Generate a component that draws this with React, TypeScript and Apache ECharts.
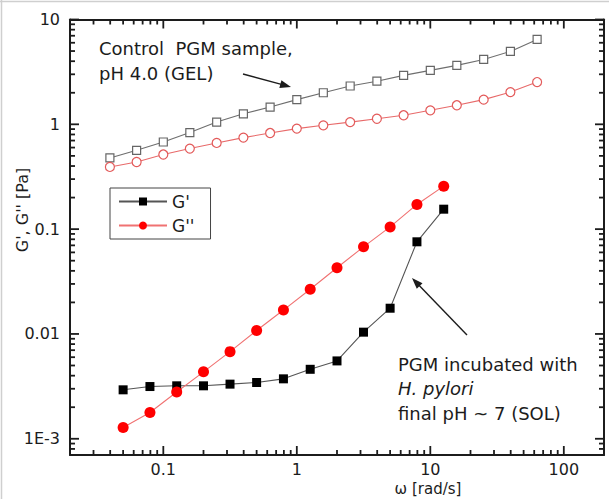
import React, { useEffect, useRef } from "react";
import * as echarts from "echarts";

// Control PGM sample, pH 4.0 (gel)
const gelFreq = [0.0398, 0.0631, 0.1, 0.158, 0.251, 0.398, 0.631, 1, 1.58, 2.51, 3.98, 6.31, 10, 15.8, 25.1, 39.8, 63.1];
const gelStorage = [0.478, 0.565, 0.678, 0.834, 1.05, 1.26, 1.46, 1.72, 2.0, 2.32, 2.58, 2.93, 3.27, 3.65, 4.16, 4.96, 6.45];
const gelLoss = [0.392, 0.437, 0.515, 0.587, 0.664, 0.747, 0.826, 0.91, 0.978, 1.05, 1.13, 1.22, 1.36, 1.52, 1.72, 2.03, 2.53];

// PGM incubated with H. pylori, final pH ~ 7 (sol)
const solFreq = [0.05, 0.0794, 0.126, 0.2, 0.316, 0.5, 0.794, 1.26, 2, 3.16, 5, 7.94, 12.6];
const solStorage = [0.00293, 0.00315, 0.0032, 0.0032, 0.00332, 0.00344, 0.00373, 0.0046, 0.00553, 0.0104, 0.0176, 0.0757, 0.155];
const solLoss = [0.00128, 0.00178, 0.00279, 0.00435, 0.00678, 0.0108, 0.0169, 0.0267, 0.0428, 0.0678, 0.105, 0.172, 0.257];

const xTickValues = [0.1, 1, 10, 100];
const xTickLabels = ["0.1", "1", "10", "100"];
const yTickValues = [0.001, 0.01, 0.1, 1, 10];
const yTickLabels = ["1E-3", "0.01", "0.1", "1", "10"];

const X_MIN = 0.02;
const X_MAX = 200;
const Y_MIN = 0.0007;
const Y_MAX = 10;

const FONT = "DejaVu Sans";
const INK = "#1c1c1c";
const MAJOR_LEN = 9;
const MINOR_LEN = 5;

// 2..9 x 10^n strictly inside (lo, hi)
function minorTicks(lo: number, hi: number): number[] {
  const out: number[] = [];
  for (let e = -5; e <= 4; e++) {
    for (let k = 2; k <= 9; k++) {
      const v = Number((k * Math.pow(10, e)).toPrecision(6));
      if (v > lo * 1.0001 && v < hi * 0.9999) out.push(v);
    }
  }
  return out;
}

function labelFor(values: number[], labels: string[]) {
  return (v: number) => {
    const i = values.findIndex((t) => Math.abs(Math.log10(t) - Math.log10(v)) < 1e-6);
    return i >= 0 ? labels[i] : "";
  };
}

function pairs(xs: number[], ys: number[]) {
  return xs.map((x, i) => [x, ys[i]]);
}

function arrow(x1: number, y1: number, x2: number, y2: number) {
  const dx = x2 - x1;
  const dy = y2 - y1;
  const len = Math.hypot(dx, dy);
  const ux = dx / len;
  const uy = dy / len;
  const headLen = 11;
  const halfW = 4;
  const bx = x2 - ux * headLen;
  const by = y2 - uy * headLen;
  return [
    {
      type: "line",
      shape: { x1, y1, x2: bx + ux * 2, y2: by + uy * 2 },
      style: { stroke: INK, lineWidth: 1.4 },
      silent: true,
    },
    {
      type: "polygon",
      shape: {
        points: [
          [x2, y2],
          [bx - uy * halfW, by + ux * halfW],
          [bx + uy * halfW, by - ux * halfW],
        ],
      },
      style: { fill: INK },
      silent: true,
    },
  ];
}

function frameAxis(dim: "x" | "y", position: string, withLabels: boolean, values: number[], fmt: (v: number) => string) {
  const range = dim === "x" ? { min: X_MIN, max: X_MAX } : { min: Y_MIN, max: Y_MAX };
  return {
    type: "log",
    logBase: 10,
    position,
    ...range,
    splitLine: { show: false },
    minorTick: { show: false },
    axisTick: { show: false },
    axisLine: { show: true, onZero: false, lineStyle: { color: INK, width: 2 } },
    axisLabel: {
      show: withLabels,
      customValues: values,
      formatter: fmt,
      margin: dim === "x" ? 6 : 10,
      fontFamily: FONT,
      fontSize: 16,
      color: INK,
    },
  };
}

export default function App() {
  const ref = useRef<HTMLDivElement>(null);

  useEffect(() => {
    document.body.style.margin = "0";
    if (!ref.current) return;
    const chart = echarts.init(ref.current, null, { renderer: "svg" });

    const fx = labelFor(xTickValues, xTickLabels);
    const fy = labelFor(yTickValues, yTickLabels);

    const textStyle = { fontFamily: FONT, fontSize: 18, fill: INK };

    const baseGraphics: any[] = [
      { type: "line", shape: { x1: 0, y1: 1.5, x2: 609, y2: 1.5 }, style: { stroke: "#cfcfcf", lineWidth: 1.5 }, silent: true },
      { type: "line", shape: { x1: 1.5, y1: 0, x2: 1.5, y2: 499 }, style: { stroke: "#cfcfcf", lineWidth: 1.5 }, silent: true },
      {
        type: "text",
        x: 22,
        y: 210,
        rotation: Math.PI / 2,
        style: { text: "G', G'' [Pa]", x: 0, y: 0, align: "center", verticalAlign: "middle", fontFamily: FONT, fontSize: 16, fill: INK },
        silent: true,
      },
      {
        type: "text",
        x: 428,
        y: 489,
        style: { text: "ω [rad/s]", align: "center", verticalAlign: "middle", fontFamily: FONT, fontSize: 15, lineHeight: 15, fill: INK },
        silent: true,
      },
      { type: "text", x: 99, y: 48, style: { ...textStyle, text: "Control  PGM sample,", verticalAlign: "middle" }, silent: true },
      { type: "text", x: 99, y: 73, style: { ...textStyle, text: "pH 4.0 (GEL)", verticalAlign: "middle" }, silent: true },
      { type: "text", x: 398, y: 364, style: { ...textStyle, text: "PGM incubated with", verticalAlign: "middle" }, silent: true },
      { type: "text", x: 398, y: 388, style: { ...textStyle, text: "H. pylori", fontStyle: "italic", verticalAlign: "middle" }, silent: true },
      { type: "text", x: 398, y: 413, style: { ...textStyle, text: "final pH ~ 7 (SOL)", verticalAlign: "middle" }, silent: true },
      ...arrow(243, 74, 291, 87),
      ...arrow(467, 335, 412, 278),
    ];

    chart.setOption({
      animation: false,
      backgroundColor: "#ffffff",
      grid: { left: 70, top: 19.5, right: 5, bottom: 44, containLabel: false },
      xAxis: [frameAxis("x", "bottom", true, xTickValues, fx), frameAxis("x", "top", false, xTickValues, fx)],
      yAxis: [frameAxis("y", "left", true, yTickValues, fy), frameAxis("y", "right", false, yTickValues, fy)],
      legend: {
        data: ["G'", "G''"],
        orient: "vertical",
        left: 110,
        top: 188,
        padding: [5, 16, 5, 8],
        itemGap: 7,
        itemWidth: 48,
        itemHeight: 10,
        borderColor: "#444",
        borderWidth: 1,
        selectedMode: false,
        textStyle: { fontFamily: FONT, fontSize: 17, color: INK },
      },
      series: [
        {
          name: "G' (GEL)",
          type: "line",
          data: pairs(gelFreq, gelStorage),
          symbol: "rect",
          symbolSize: 8,
          lineStyle: { color: "#6e6e6e", width: 1.1 },
          itemStyle: { color: "#ffffff", borderColor: "#666666", borderWidth: 1.2 },
          z: 3,
        },
        {
          name: "G'' (GEL)",
          type: "line",
          data: pairs(gelFreq, gelLoss),
          symbol: "circle",
          symbolSize: 9,
          lineStyle: { color: "#e86a6a", width: 1.1 },
          itemStyle: { color: "#ffffff", borderColor: "#e35a5a", borderWidth: 1.2 },
          z: 3,
        },
        {
          name: "G'",
          type: "line",
          data: pairs(solFreq, solStorage),
          symbol: "rect",
          symbolSize: 9,
          lineStyle: { color: "#555555", width: 1.1 },
          itemStyle: { color: "#000000" },
          z: 4,
        },
        {
          name: "G''",
          type: "line",
          data: pairs(solFreq, solLoss),
          symbol: "circle",
          symbolSize: 11,
          lineStyle: { color: "#f07272", width: 1.1 },
          itemStyle: { color: "#ff0000" },
          z: 4,
        },
      ],
      graphic: { elements: baseGraphics },
    });

    // inward tick marks on all four sides, placed through the axes' own log scales
    const toPx = (x: number, y: number) => chart.convertToPixel({ xAxisIndex: 0, yAxisIndex: 0 }, [x, y]) as number[];
    const tickStyle = { stroke: INK, lineWidth: 1.8 };
    const ticks: any[] = [];
    const xTicks = [
      ...xTickValues.map((v) => [v, MAJOR_LEN]),
      ...minorTicks(X_MIN, X_MAX).map((v) => [v, MINOR_LEN]),
    ];
    const yTicks = [
      ...yTickValues.map((v) => [v, MAJOR_LEN]),
      ...minorTicks(Y_MIN, Y_MAX).map((v) => [v, MINOR_LEN]),
    ];
    xTicks.forEach(([v, len]) => {
      const b = toPx(v, Y_MIN);
      const t = toPx(v, Y_MAX);
      ticks.push({ type: "line", silent: true, z: 10, shape: { x1: b[0], y1: b[1], x2: b[0], y2: b[1] - len }, style: tickStyle });
      ticks.push({ type: "line", silent: true, z: 10, shape: { x1: t[0], y1: t[1], x2: t[0], y2: t[1] + len }, style: tickStyle });
    });
    yTicks.forEach(([v, len]) => {
      const l = toPx(X_MIN, v);
      const r = toPx(X_MAX, v);
      ticks.push({ type: "line", silent: true, z: 10, shape: { x1: l[0], y1: l[1], x2: l[0] + len, y2: l[1] }, style: tickStyle });
      ticks.push({ type: "line", silent: true, z: 10, shape: { x1: r[0], y1: r[1], x2: r[0] - len, y2: r[1] }, style: tickStyle });
    });

    chart.setOption({ graphic: { elements: [...baseGraphics, ...ticks] } });

    return () => chart.dispose();
  }, []);

  return <div ref={ref} style={{ width: 609, height: 499 }} />;
}
